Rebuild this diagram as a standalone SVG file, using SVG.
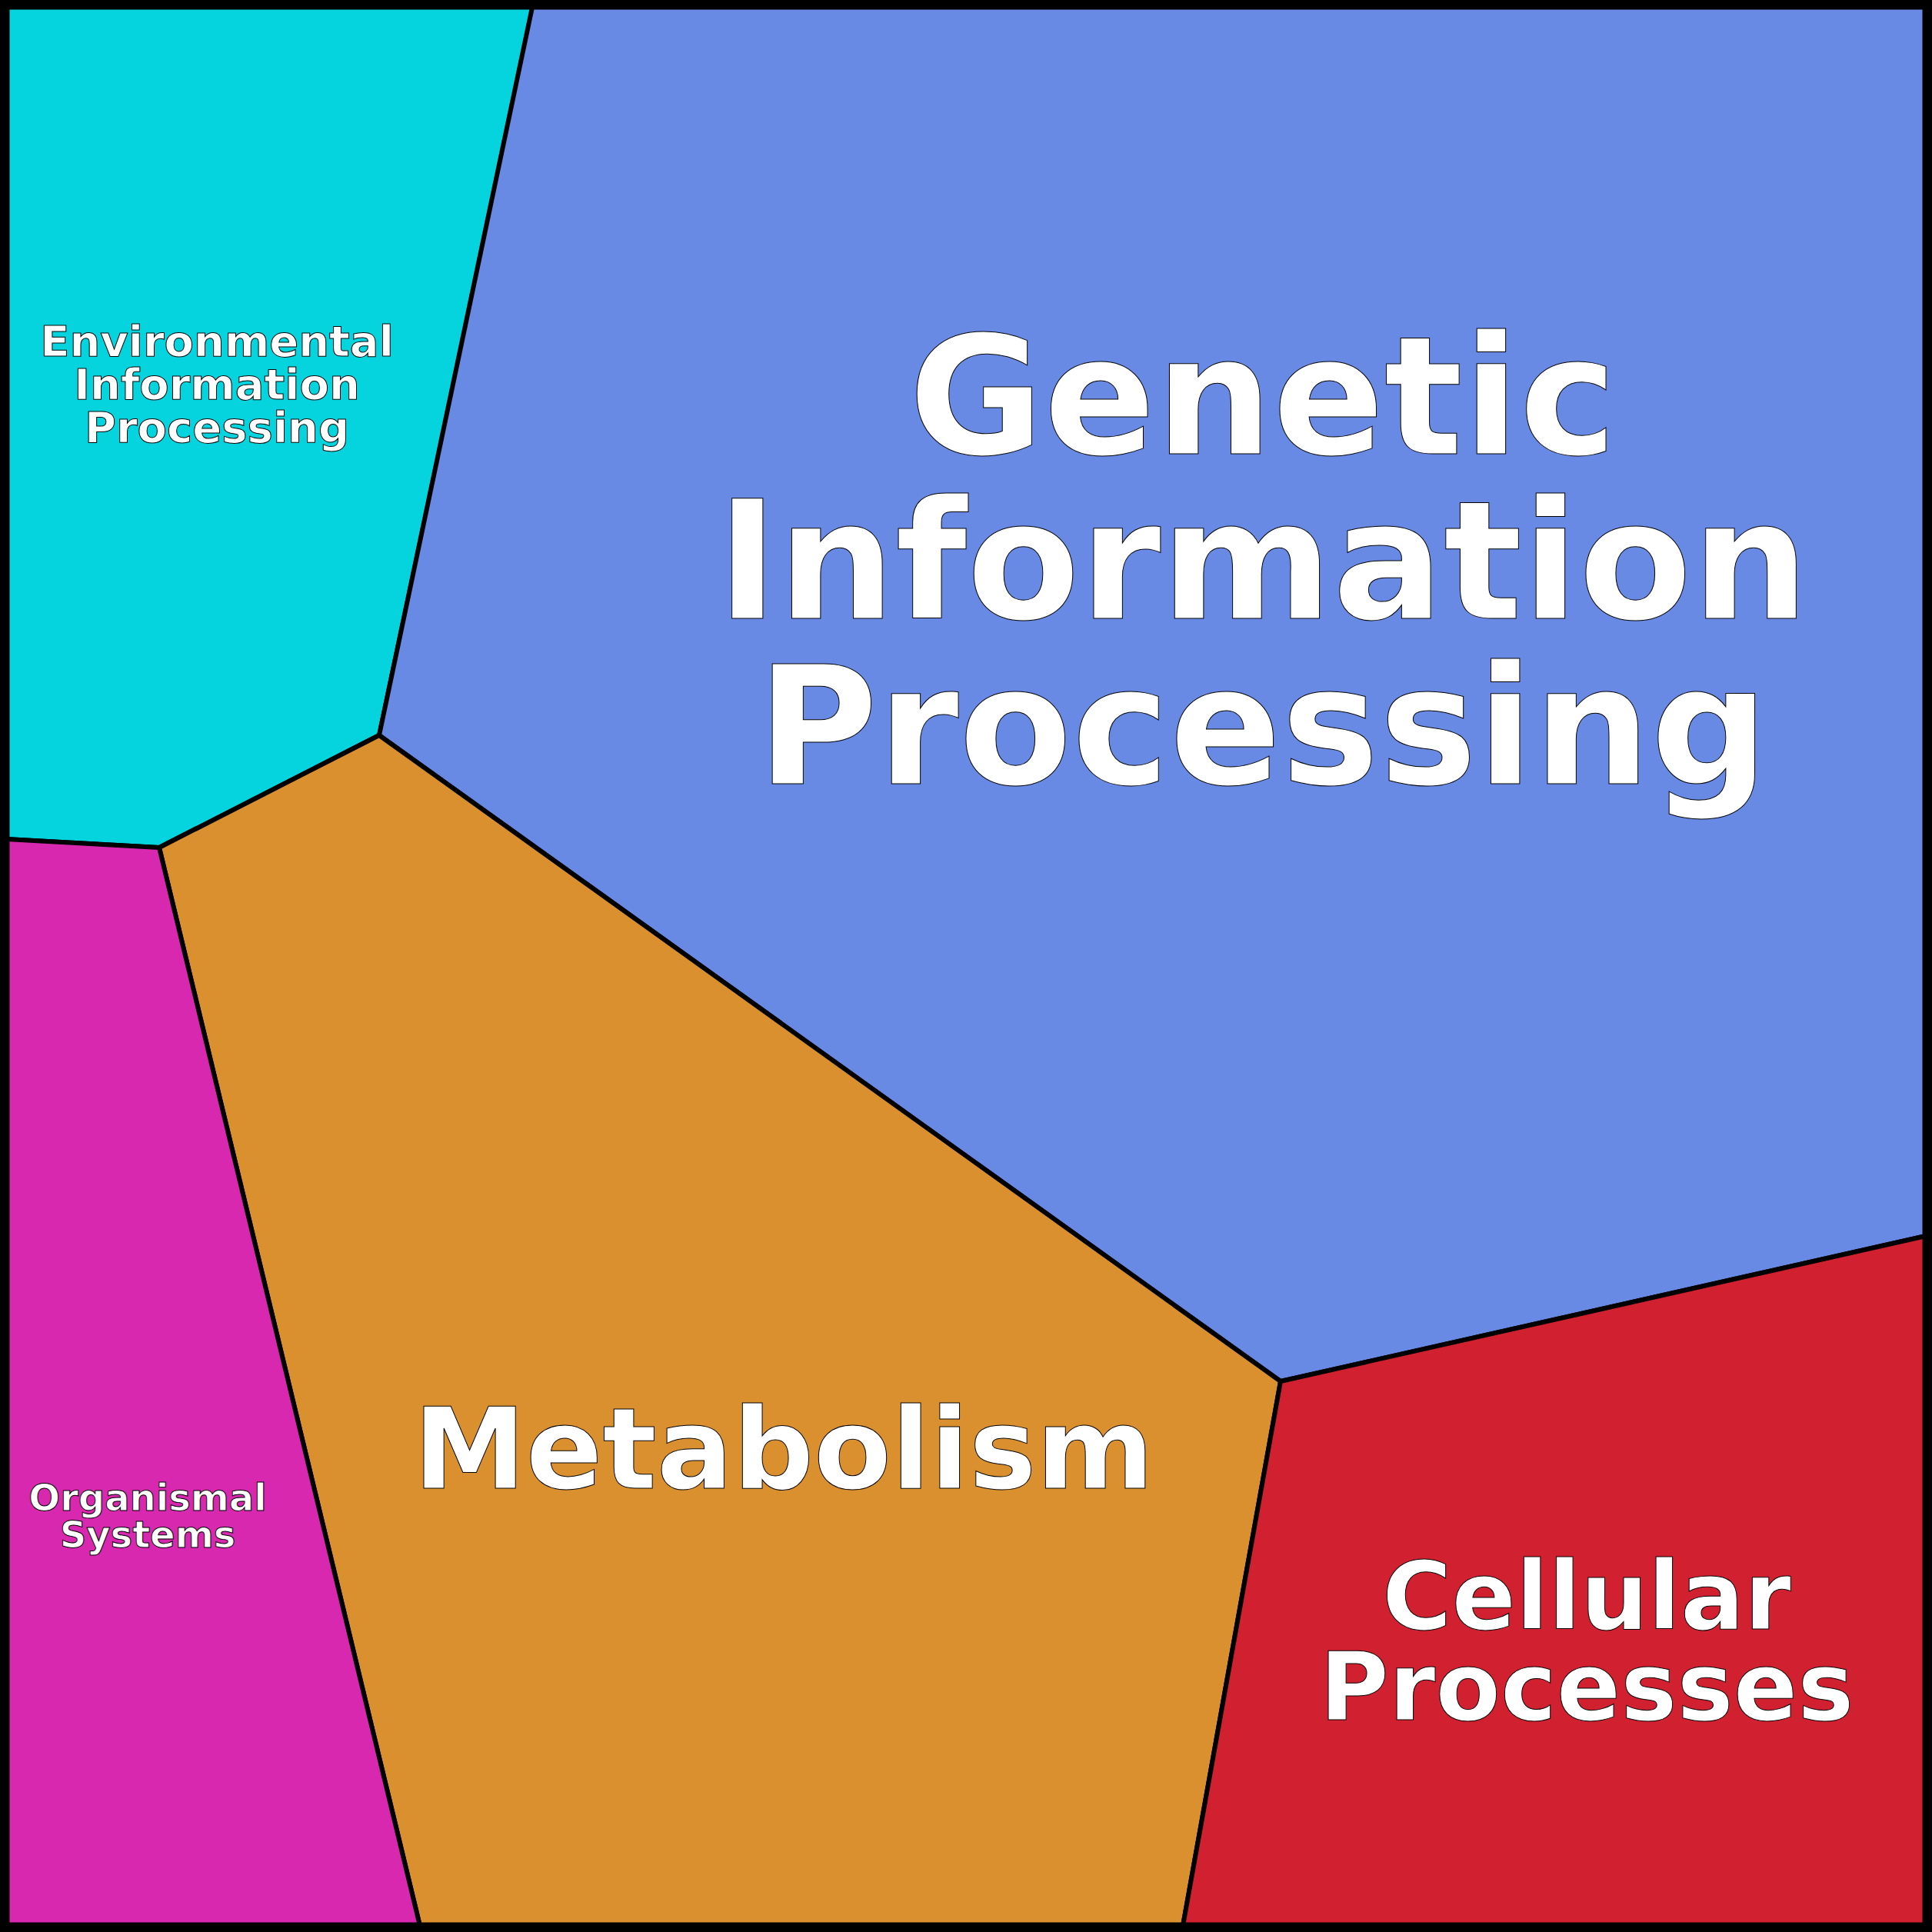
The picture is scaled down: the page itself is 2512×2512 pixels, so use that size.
<svg xmlns="http://www.w3.org/2000/svg" width="2512" height="2512" viewBox="0 0 2512 2512">
<style>
.r{stroke:#000;stroke-width:6;stroke-linejoin:round}
.t{font-family:"DejaVu Sans",sans-serif;font-weight:bold;fill:#fff;stroke:#000;stroke-width:1;text-anchor:middle}
</style>
<g id="env"><polygon class="r" fill="#05d4de" points="0,0 694,8 493,956 207,1102 8,1091 0,1091"/>
<text class="t" font-size="56"><tspan y="463" x="282">Environmental</tspan><tspan y="519" x="282">Information</tspan><tspan y="575" x="282">Processing</tspan></text></g>
<g id="genetic"><polygon class="r" fill="#6889e4" points="694,0 2512,0 2512,1607 2504,1607 1665,1796 493,956"/>
<text class="t" font-size="214"><tspan y="590" x="1642">Genetic</tspan><tspan y="804" x="1642">Information</tspan><tspan y="1019" x="1642">Processing</tspan></text></g>
<g id="metabolism"><polygon class="r" fill="#db9030" points="493,956 1665,1796 1538,2504 546,2504 207,1102"/>
<text class="t" font-size="147" x="1019" y="1935">Metabolism</text></g>
<g id="organismal"><polygon class="r" fill="#d928b0" points="8,1091 207,1102 546,2504 0,2512 0,1091"/>
<text class="t" font-size="48"><tspan y="1964" x="192">Organismal</tspan><tspan y="2012" x="192">Systems</tspan></text></g>
<g id="cellular"><polygon class="r" fill="#d12130" points="1665,1796 2504,1607 2512,1607 2512,2512 1538,2512 1538,2504"/>
<text class="t" font-size="123"><tspan y="2118" x="2063">Cellular</tspan><tspan y="2236" x="2063">Processes</tspan></text></g>
<rect x="6" y="6" width="2500" height="2500" fill="none" stroke="#000" stroke-width="13"/>
</svg>
